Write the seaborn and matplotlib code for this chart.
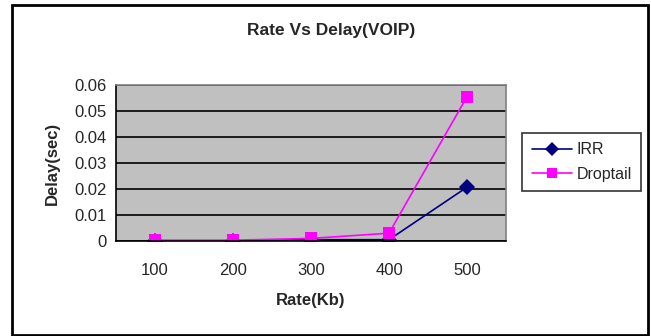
import matplotlib
matplotlib.use("Agg")
import matplotlib.pyplot as plt
import seaborn as sns
import pandas as pd
import numpy as np
from matplotlib.patches import Rectangle
from matplotlib.lines import Line2D

rates = ["100", "200", "300", "400", "500"]
irr = [0.0, 0.0, 0.0005, 0.0005, 0.0207]
droptail = [0.0003, 0.0003, 0.001, 0.003, 0.0555]
yticks = [0, 0.01, 0.02, 0.03, 0.04, 0.05, 0.06]
ytick_labels = ["0", "0.01", "0.02", "0.03", "0.04", "0.05", "0.06"]

sns.set_style("white")
plt.rcParams['font.family'] = ['Liberation Sans', 'DejaVu Sans']

pos = list(range(len(rates)))
df = pd.DataFrame({
    "pos": pos * 2,
    "delay": irr + droptail,
    "series": ["IRR"] * len(rates) + ["Droptail"] * len(rates),
})

fig = plt.figure(figsize=(6.51, 3.36), dpi=100)
ax = fig.add_axes([116/651, 1-241/336, (506-116)/651, (241-85)/336])
ax.set_facecolor("#C0C0C0")

palette = {"IRR": "#000080", "Droptail": "#FF00FF"}
markers = {"IRR": "D", "Droptail": "s"}
sns.lineplot(data=df, x="pos", y="delay", hue="series", style="series",
             markers=markers, dashes=False, palette=palette, ax=ax,
             linewidth=1.2, markersize=8, markeredgewidth=0, legend=False)

ax.set_xlim(-0.5, len(rates) - 0.5)
ax.set_ylim(0, 0.06)
ax.set_yticks(yticks)
ax.set_yticklabels(ytick_labels, fontsize=12)
ax.set_xticks(pos)
ax.set_xticklabels(rates, fontsize=12)
ax.set_xticks(np.arange(-0.5, len(rates), 1.0), minor=True)
ax.tick_params(axis="x", which="major", length=0, pad=16)
ax.tick_params(axis="x", which="minor", length=5, width=1, color="black", direction="out")
ax.tick_params(axis="y", length=5, width=1, color="black", direction="out", pad=2)
ax.grid(axis="y", color="black", linewidth=1.2)
ax.set_axisbelow(True)

for s in ["left", "bottom"]:
    ax.spines[s].set_color("black")
    ax.spines[s].set_linewidth(1.2)
for s in ["top", "right"]:
    ax.spines[s].set_color("#808080")
    ax.spines[s].set_linewidth(1.2)

ax.set_xlabel("Rate(Kb)", fontsize=12, fontweight="bold", labelpad=11)
ax.set_ylabel("Delay(sec)", fontsize=12, fontweight="bold", labelpad=10)
fig.text(0.5*(116+546)/651, 1-30/336, "Rate Vs Delay(VOIP)", fontsize=12.5,
         fontweight="bold", ha="center", va="center")

handles = [Line2D([], [], color=palette[s], marker=markers[s], markersize=7,
                  markeredgewidth=0, linewidth=1.2) for s in ["IRR", "Droptail"]]
leg = fig.legend(handles, ["IRR", "Droptail"], loc="center left",
                 bbox_to_anchor=(522/651, 1-162/336), frameon=True, fontsize=11.5,
                 fancybox=False, handlelength=2.5, borderpad=0.6, labelspacing=0.6,
                 handletextpad=0.3, borderaxespad=0)
leg.get_frame().set_edgecolor("black")
leg.get_frame().set_linewidth(1.2)

fig.patches.append(Rectangle((12/651, 1-335/336), (648-12)/651, (335-5)/336,
                             transform=fig.transFigure, fill=False,
                             edgecolor="black", linewidth=2))

fig.savefig("out.png", dpi=100)
